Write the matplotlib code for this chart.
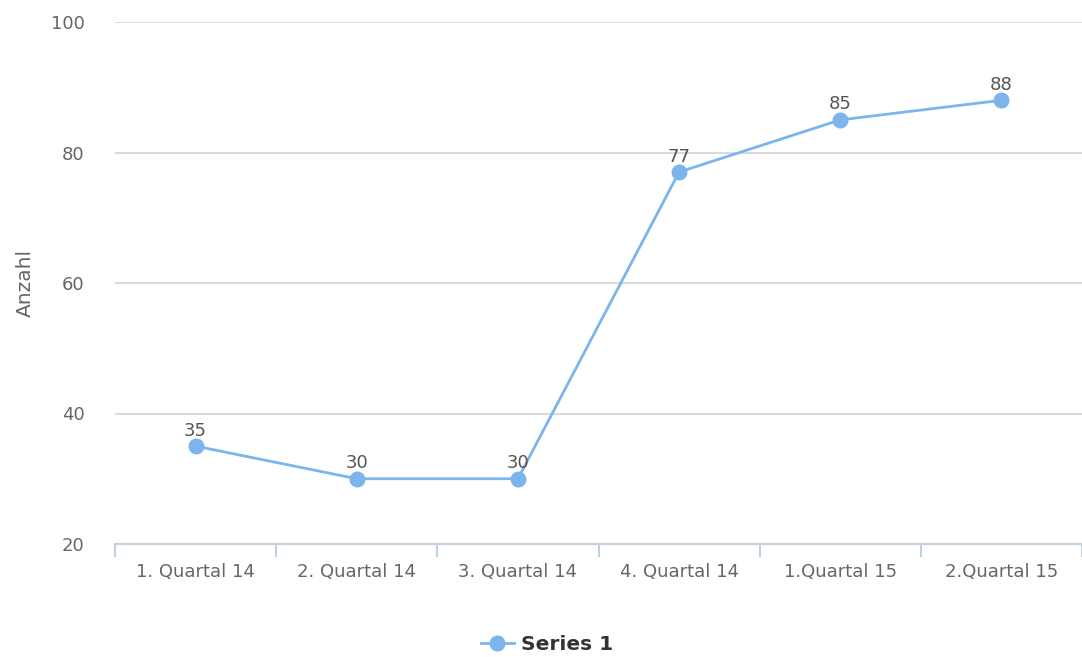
import matplotlib
matplotlib.use("Agg")
import matplotlib.pyplot as plt
from matplotlib.lines import Line2D

categories = ["1. Quartal 14", "2. Quartal 14", "3. Quartal 14",
              "4. Quartal 14", "1.Quartal 15", "2.Quartal 15"]
values = [35, 30, 30, 77, 85, 88]
yticks = [20, 40, 60, 80, 100]

line_color = "#7cb5ec"
grid_color = "#d0d0d0"
axis_color = "#c0d0e0"
text_color = "#666666"

fig = plt.figure(figsize=(10.82, 6.57), dpi=100)
ax = fig.add_axes([115 / 1082, 1 - 544 / 657, 967 / 1082, (544 - 22) / 657])

x = list(range(len(categories)))
ax.plot(x, values, color=line_color, linewidth=2, marker="o",
        markersize=10.5, markeredgecolor=line_color, zorder=3, clip_on=False)

# Werte über den Punkten
for xi, v in zip(x, values):
    ax.annotate(str(v), (xi, v), xytext=(0, 7.5), textcoords="offset points",
                ha="center", va="baseline", fontsize=13, color="#555555")

ax.set_xlim(-0.5, len(categories) - 0.5)
ax.set_ylim(20, 100)
ax.set_yticks(yticks)
ax.set_xticks(x)
ax.set_xticklabels(categories)
ax.set_xticks([i - 0.5 for i in range(len(categories) + 1)], minor=True)

ax.grid(axis="y", color=grid_color, linewidth=1.1)
ax.set_axisbelow(True)
for s in ["top", "right", "left"]:
    ax.spines[s].set_visible(False)
ax.spines["bottom"].set_color(axis_color)
ax.spines["bottom"].set_linewidth(1.5)

ax.tick_params(axis="y", length=0, pad=22, labelsize=13, labelcolor=text_color)
ax.tick_params(axis="x", which="major", length=0, pad=14, labelsize=13,
               labelcolor=text_color)
ax.tick_params(axis="x", which="minor", length=9.5, width=1.5, color=axis_color)

ax.set_ylabel("Anzahl", fontsize=14.5, color=text_color, labelpad=11)

handle = Line2D([0], [0], color=line_color, linewidth=2, marker="o",
                markersize=10.5)
leg = fig.legend(handles=[handle], labels=["Series 1"], loc="center",
                 bbox_to_anchor=(547 / 1082, 1 - 645 / 657), frameon=False,
                 handlelength=1.6, handletextpad=0.35,
                 prop={"size": 14.5, "weight": "bold"})
for t in leg.get_texts():
    t.set_color("#333333")

fig.savefig("out.png", dpi=100)
